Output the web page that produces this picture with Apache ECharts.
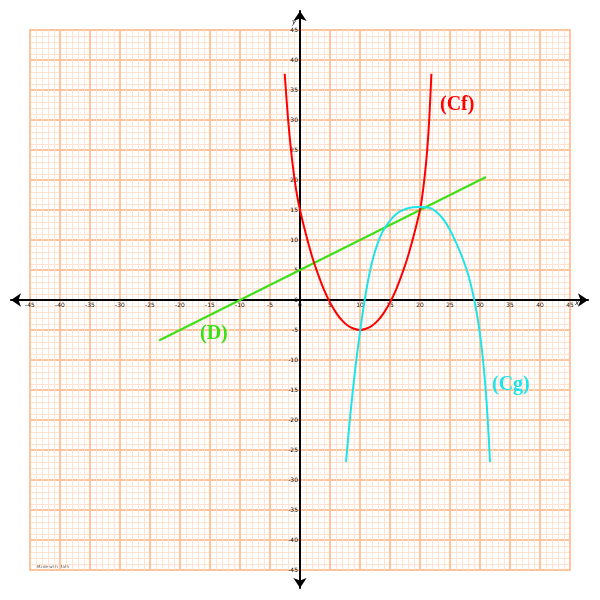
<!DOCTYPE html>
<html><head><meta charset="utf-8">
<script src="https://cdn.jsdelivr.net/npm/echarts@6/dist/echarts.min.js"></script>
<style>html,body{margin:0;padding:0;background:#fff}#c{width:600px;height:600px}</style>
</head><body><div id="c"></div>
<script>
// Tick range
const axisMin = -45;
const axisMax = 45;
const tickStep = 5;

// (Cf) red curve
const cfX = [-2.55, -2, -1.5, -1, -0.5, 0, 1, 2, 3, 4, 5, 6, 7, 8, 9, 10, 11, 12, 13, 14, 15, 16, 17, 18, 19, 20, 20.4, 20.8, 21.2, 21.55, 21.9];
const cfY = [37.7, 30.3, 25.0, 20.8, 17.5, 15.0, 10.9, 7.3, 4.3, 1.7, -0.4, -2.1, -3.4, -4.3, -4.8, -5.0, -4.8, -4.3, -3.4, -2.1, -0.4, 1.7, 4.3, 7.3, 10.9, 15.0, 17.5, 20.8, 25.0, 30.3, 37.7];

// (Cg) cyan curve
const cgX = [7.67, 8.3, 9.0, 9.5, 10.0, 10.7, 11.3, 12, 13, 14, 16, 18, 20, 22, 24, 26, 27.8, 29.05, 29.9, 30.5, 31.1, 31.67];
const cgY = [-27, -20.0, -13.3, -9.1, -5.3, -0.5, 3.0, 6.3, 9.6, 11.8, 14.3, 15.3, 15.5, 15.2, 13.3, 9.6, 5.0, 0, -5.0, -10.0, -17.0, -27];

// (D) green line
const dX = [-23.5, 31];
const dY = [-6.75, 20.5];

// Curve names
const curveNames = ['(Cf)', '(Cg)', '(D)'];

const zip = (xs, ys) => xs.map((x, i) => [x, ys[i]]);

const chart = echarts.init(document.getElementById('c'), null, {renderer: 'canvas'});
const labelStyle = {show: true, fontSize: 6, color: '#111', fontFamily: 'DejaVu Sans'};
const minorLine = {show: true, lineStyle: {color: '#ffe2cf', width: 1}};
const majorLine = {show: true, lineStyle: {color: '#ffc49c', width: 2}};
const red = '#ff0000', cyan = '#1fe3e8', green = '#3ae014';
const nameTitle = (text, color, left, top) => ({
  text: text, left: left, top: top, padding: 0,
  textStyle: {color: color, fontSize: 20, fontWeight: 'bold', fontFamily: 'Liberation Serif'}
});
const arrowAxis = (min, max) => ({
  type: 'value', gridIndex: 1, min: min, max: max,
  axisLine: {show: true, onZero: true, symbol: ['arrow', 'arrow'], symbolSize: [10, 10], lineStyle: {color: '#000', width: 2}},
  axisTick: {show: false}, splitLine: {show: false}, axisLabel: {show: false}
});

chart.setOption({
  animation: false,
  backgroundColor: '#fff',
  title: [
    nameTitle(curveNames[0], red, 440, 95),
    nameTitle(curveNames[1], cyan, 492, 375),
    nameTitle(curveNames[2], green, 200, 324)
  ],
  grid: [
    {left: 30, right: 30, top: 30, bottom: 30, show: true, borderColor: '#ffc49c', borderWidth: 2},
    {left: 11, right: 12, top: 11, bottom: 12}
  ],
  xAxis: [
    {type: 'value', gridIndex: 0, min: axisMin, max: axisMax, interval: tickStep,
     position: 'bottom', offset: -270,
     axisLine: {show: true, onZero: false, lineStyle: {color: '#000', width: 2}},
     axisTick: {show: false}, minorTick: {show: false, splitNumber: 5},
     splitLine: majorLine, minorSplitLine: minorLine,
     axisLabel: Object.assign({margin: 2}, labelStyle)},
    arrowAxis(-289 / 6, 288 / 6)
  ],
  yAxis: [
    {type: 'value', gridIndex: 0, min: axisMin, max: axisMax, interval: tickStep,
     position: 'left', offset: -270,
     axisLine: {show: true, onZero: false, lineStyle: {color: '#000', width: 2}},
     axisTick: {show: false}, minorTick: {show: false, splitNumber: 5},
     splitLine: majorLine, minorSplitLine: minorLine,
     axisLabel: Object.assign({margin: 2}, labelStyle)},
    arrowAxis(-288 / 6, 289 / 6)
  ],
  series: [
    {type: 'line', xAxisIndex: 0, yAxisIndex: 0, data: zip(dX, dY), showSymbol: false,
     lineStyle: {color: green, width: 2}, z: 5},
    {type: 'line', xAxisIndex: 0, yAxisIndex: 0, data: zip(cfX, cfY), smooth: 0.3, showSymbol: false,
     lineStyle: {color: red, width: 2}, z: 6},
    {type: 'line', xAxisIndex: 0, yAxisIndex: 0, data: zip(cgX, cgY), smooth: 0.3, showSymbol: false,
     lineStyle: {color: cyan, width: 2}, z: 6}
  ],
  graphic: [
    {type: 'text', left: 575, top: 300, style: {text: 'x', fill: '#111', font: 'italic 7px "DejaVu Sans"'}},
    {type: 'text', left: 292, top: 19, style: {text: 'y', fill: '#111', font: 'italic 7px "DejaVu Sans"'}},
    {type: 'text', left: 37, top: 565, style: {text: 'Made with Math', fill: '#555', font: '4px "DejaVu Sans"'}}
  ]
});
</script></body></html>
